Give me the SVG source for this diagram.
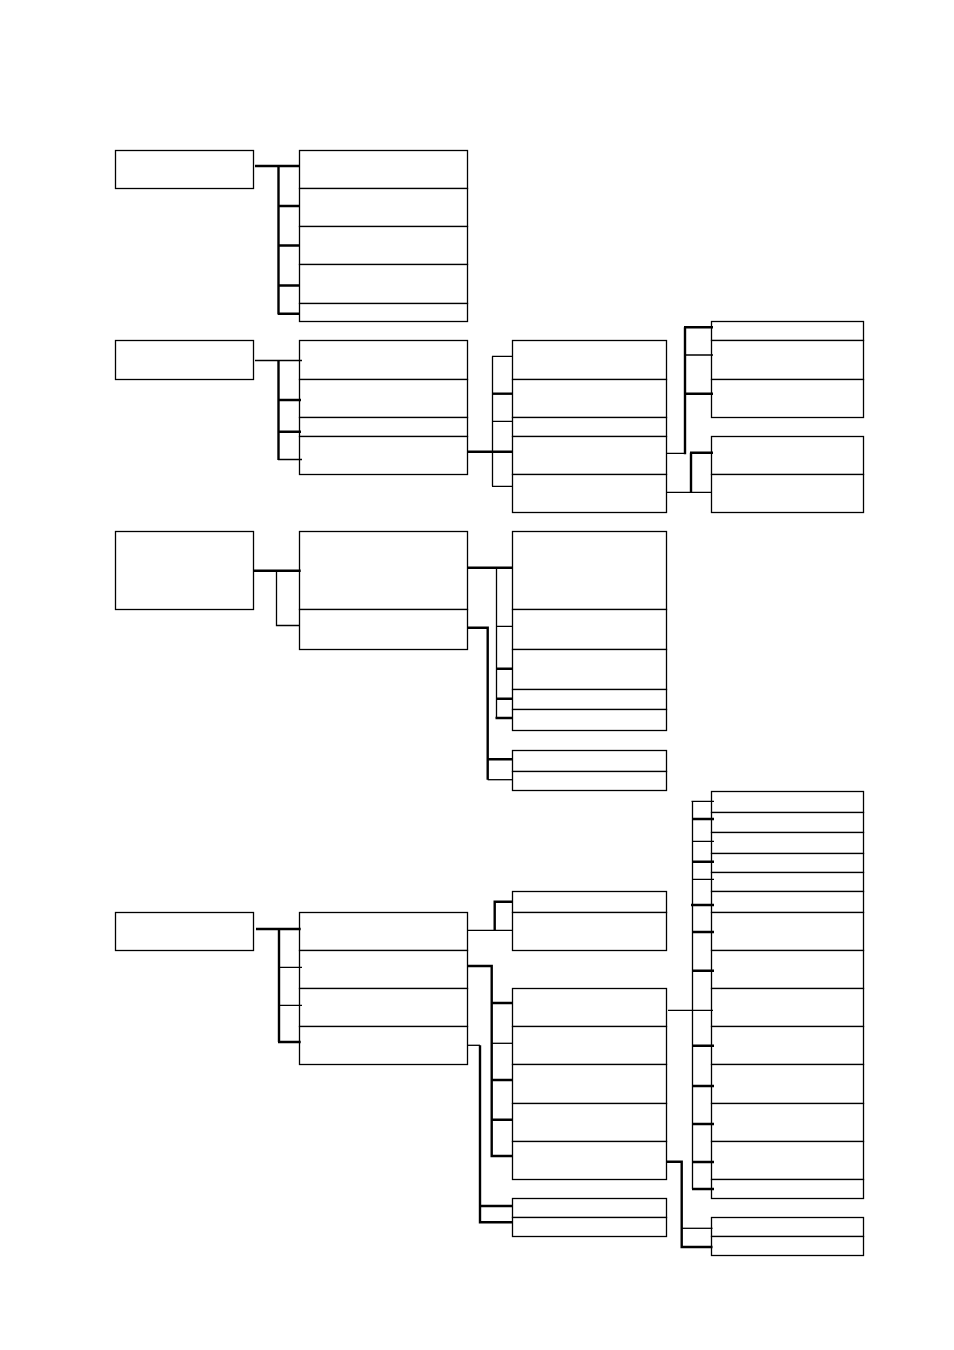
<svg xmlns="http://www.w3.org/2000/svg" width="954" height="1350" viewBox="0 0 954 1350">
<style>
.box{fill:#fff;stroke:#000;stroke-width:1.3}
.thin{fill:none;stroke:#000;stroke-width:1.3}
.thick{fill:none;stroke:#000;stroke-width:2.4}
</style>
<rect width="954" height="1350" fill="#fff"/>
<!-- group 1 nodes -->
<g id="n1"><rect class="box" x="115.5" y="150.5" width="138" height="38"/></g>
<g id="c1a"><rect class="box" x="299.5" y="150.5" width="168" height="38"/></g>
<g id="c1b"><rect class="box" x="299.5" y="188.5" width="168" height="38"/></g>
<g id="c1c"><rect class="box" x="299.5" y="226.5" width="168" height="38"/></g>
<g id="c1d"><rect class="box" x="299.5" y="264.5" width="168" height="39"/></g>
<g id="c1e"><rect class="box" x="299.5" y="303.5" width="168" height="18"/></g>
<!-- group 2 nodes -->
<g id="n2"><rect class="box" x="115.5" y="340.5" width="138" height="39"/></g>
<g id="c2a"><rect class="box" x="299.5" y="340.5" width="168" height="39"/></g>
<g id="c2b"><rect class="box" x="299.5" y="379.5" width="168" height="38"/></g>
<g id="c2c"><rect class="box" x="299.5" y="417.5" width="168" height="19"/></g>
<g id="c2d"><rect class="box" x="299.5" y="436.5" width="168" height="38"/></g>
<g id="d2a"><rect class="box" x="512.5" y="340.5" width="154" height="39"/></g>
<g id="d2b"><rect class="box" x="512.5" y="379.5" width="154" height="38"/></g>
<g id="d2c"><rect class="box" x="512.5" y="417.5" width="154" height="19"/></g>
<g id="d2d"><rect class="box" x="512.5" y="436.5" width="154" height="38"/></g>
<g id="d2e"><rect class="box" x="512.5" y="474.5" width="154" height="38"/></g>
<g id="e2a"><rect class="box" x="711.5" y="321.5" width="152" height="19"/></g>
<g id="e2b"><rect class="box" x="711.5" y="340.5" width="152" height="39"/></g>
<g id="e2c"><rect class="box" x="711.5" y="379.5" width="152" height="38"/></g>
<g id="e2d"><rect class="box" x="711.5" y="436.5" width="152" height="38"/></g>
<g id="e2e"><rect class="box" x="711.5" y="474.5" width="152" height="38"/></g>
<!-- group 3 nodes -->
<g id="n3"><rect class="box" x="115.5" y="531.5" width="138" height="78"/></g>
<g id="c3a"><rect class="box" x="299.5" y="531.5" width="168" height="78"/></g>
<g id="c3b"><rect class="box" x="299.5" y="609.5" width="168" height="40"/></g>
<g id="d3a"><rect class="box" x="512.5" y="531.5" width="154" height="78"/></g>
<g id="d3b"><rect class="box" x="512.5" y="609.5" width="154" height="40"/></g>
<g id="d3c"><rect class="box" x="512.5" y="649.5" width="154" height="40"/></g>
<g id="d3d"><rect class="box" x="512.5" y="689.5" width="154" height="20"/></g>
<g id="d3e"><rect class="box" x="512.5" y="709.5" width="154" height="21"/></g>
<g id="d3f"><rect class="box" x="512.5" y="750.5" width="154" height="21"/></g>
<g id="d3g"><rect class="box" x="512.5" y="771.5" width="154" height="19"/></g>
<!-- group 4 nodes -->
<g id="n4"><rect class="box" x="115.5" y="912.5" width="138" height="38"/></g>
<g id="c4a"><rect class="box" x="299.5" y="912.5" width="168" height="38"/></g>
<g id="c4b"><rect class="box" x="299.5" y="950.5" width="168" height="38"/></g>
<g id="c4c"><rect class="box" x="299.5" y="988.5" width="168" height="38"/></g>
<g id="c4d"><rect class="box" x="299.5" y="1026.5" width="168" height="38"/></g>
<g id="d4a"><rect class="box" x="512.5" y="891.5" width="154" height="21"/></g>
<g id="d4b"><rect class="box" x="512.5" y="912.5" width="154" height="38"/></g>
<g id="d4c"><rect class="box" x="512.5" y="988.5" width="154" height="38"/></g>
<g id="d4d"><rect class="box" x="512.5" y="1026.5" width="154" height="38"/></g>
<g id="d4e"><rect class="box" x="512.5" y="1064.5" width="154" height="39"/></g>
<g id="d4f"><rect class="box" x="512.5" y="1103.5" width="154" height="38"/></g>
<g id="d4g"><rect class="box" x="512.5" y="1141.5" width="154" height="38"/></g>
<g id="d4h"><rect class="box" x="512.5" y="1198.5" width="154" height="19"/></g>
<g id="d4i"><rect class="box" x="512.5" y="1217.5" width="154" height="19"/></g>
<g id="e4a"><rect class="box" x="711.5" y="791.5" width="152" height="21"/></g>
<g id="e4b"><rect class="box" x="711.5" y="812.5" width="152" height="20"/></g>
<g id="e4c"><rect class="box" x="711.5" y="832.5" width="152" height="21"/></g>
<g id="e4d"><rect class="box" x="711.5" y="853.5" width="152" height="19"/></g>
<g id="e4e"><rect class="box" x="711.5" y="872.5" width="152" height="19"/></g>
<g id="e4f"><rect class="box" x="711.5" y="891.5" width="152" height="21"/></g>
<g id="e4g"><rect class="box" x="711.5" y="912.5" width="152" height="38"/></g>
<g id="e4h"><rect class="box" x="711.5" y="950.5" width="152" height="38"/></g>
<g id="e4i"><rect class="box" x="711.5" y="988.5" width="152" height="38"/></g>
<g id="e4j"><rect class="box" x="711.5" y="1026.5" width="152" height="38"/></g>
<g id="e4k"><rect class="box" x="711.5" y="1064.5" width="152" height="39"/></g>
<g id="e4l"><rect class="box" x="711.5" y="1103.5" width="152" height="38"/></g>
<g id="e4m"><rect class="box" x="711.5" y="1141.5" width="152" height="38"/></g>
<g id="e4n"><rect class="box" x="711.5" y="1179.5" width="152" height="19"/></g>
<g id="e4o"><rect class="box" x="711.5" y="1217.5" width="152" height="19"/></g>
<g id="e4p"><rect class="box" x="711.5" y="1236.5" width="152" height="19"/></g>
<g id="connectors">
<!-- group 1 -->
<path class="thick" d="M255,166 H299 M278.5,165 V314.5 M278,206 H300 M278,245.5 H300 M278,285.5 H300 M278,313.7 H300"/>
<!-- group 2 -->
<path class="thin" d="M255,360.5 H302 M278,459.5 H302"/>
<path class="thick" d="M278.5,360 V460 M278,400 H301 M278,431.7 H301 M468,451.7 H513"/>
<path class="thin" d="M492.5,356.3 V486.3 M492,356.3 H513 M492,421.3 H513 M492,486.3 H513"/>
<path class="thick" d="M492,393.7 H513"/>
<path class="thin" d="M667,453.3 H685 M685,355 H713 M667,492.3 H712"/>
<path class="thick" d="M685,454.3 V327.3 M684,327.3 H713 M685,393.7 H713 M691,492.3 V452.7 M690,452.7 H713"/>
<!-- group 3 -->
<path class="thick" d="M254,570.7 H300.7"/>
<path class="thin" d="M276.5,570.7 V625.5 H299"/>
<path class="thick" d="M468,567.7 H512.5"/>
<path class="thin" d="M496.5,567.7 V718 M496,626.3 H513"/>
<path class="thick" d="M496,668.7 H513 M496,698.7 H513 M495.5,718 H513"/>
<path class="thick" d="M468,627.7 H487.7 V779.7 M487.7,759.3 H513"/>
<path class="thin" d="M487.7,779.7 H513"/>
<!-- group 4 -->
<path class="thick" d="M256,929 H300.7 M279,929 V1042 M278,1042 H300.7"/>
<path class="thin" d="M279,967.3 H302 M279,1005.3 H302"/>
<path class="thin" d="M468,930.3 H512.5"/>
<path class="thick" d="M494.7,930.3 V901.7 H512.5"/>
<path class="thick" d="M468,966 H491.7 V1156 H512.5 M491.7,1003 H512.5 M491.7,1080 H512.5 M491.7,1119.7 H512.5"/>
<path class="thin" d="M491.7,1043.3 H512.5"/>
<path class="thin" d="M468,1045.3 H480"/>
<path class="thick" d="M480,1045.3 V1222.3 H512.5 M480,1206 H512.5"/>
<path class="thin" d="M668,1010.3 H713"/>
<path class="thick" d="M667,1161.7 H681.7 V1247 H712.5"/>
<path class="thin" d="M682,1228.3 H712.5"/>
<path class="thin" d="M692.5,801.3 V1189 M691.5,801.3 H714 M692,841.3 H714 M692,879.3 H714"/>
<path class="thick" d="M692,819 H714 M692,861.7 H714 M691,905 H714 M692,932 H714 M692,970.7 H714 M692,1045.7 H714 M692,1086 H714 M692,1124 H714 M692,1162 H714 M692,1189 H714"/>
</g>
</svg>
